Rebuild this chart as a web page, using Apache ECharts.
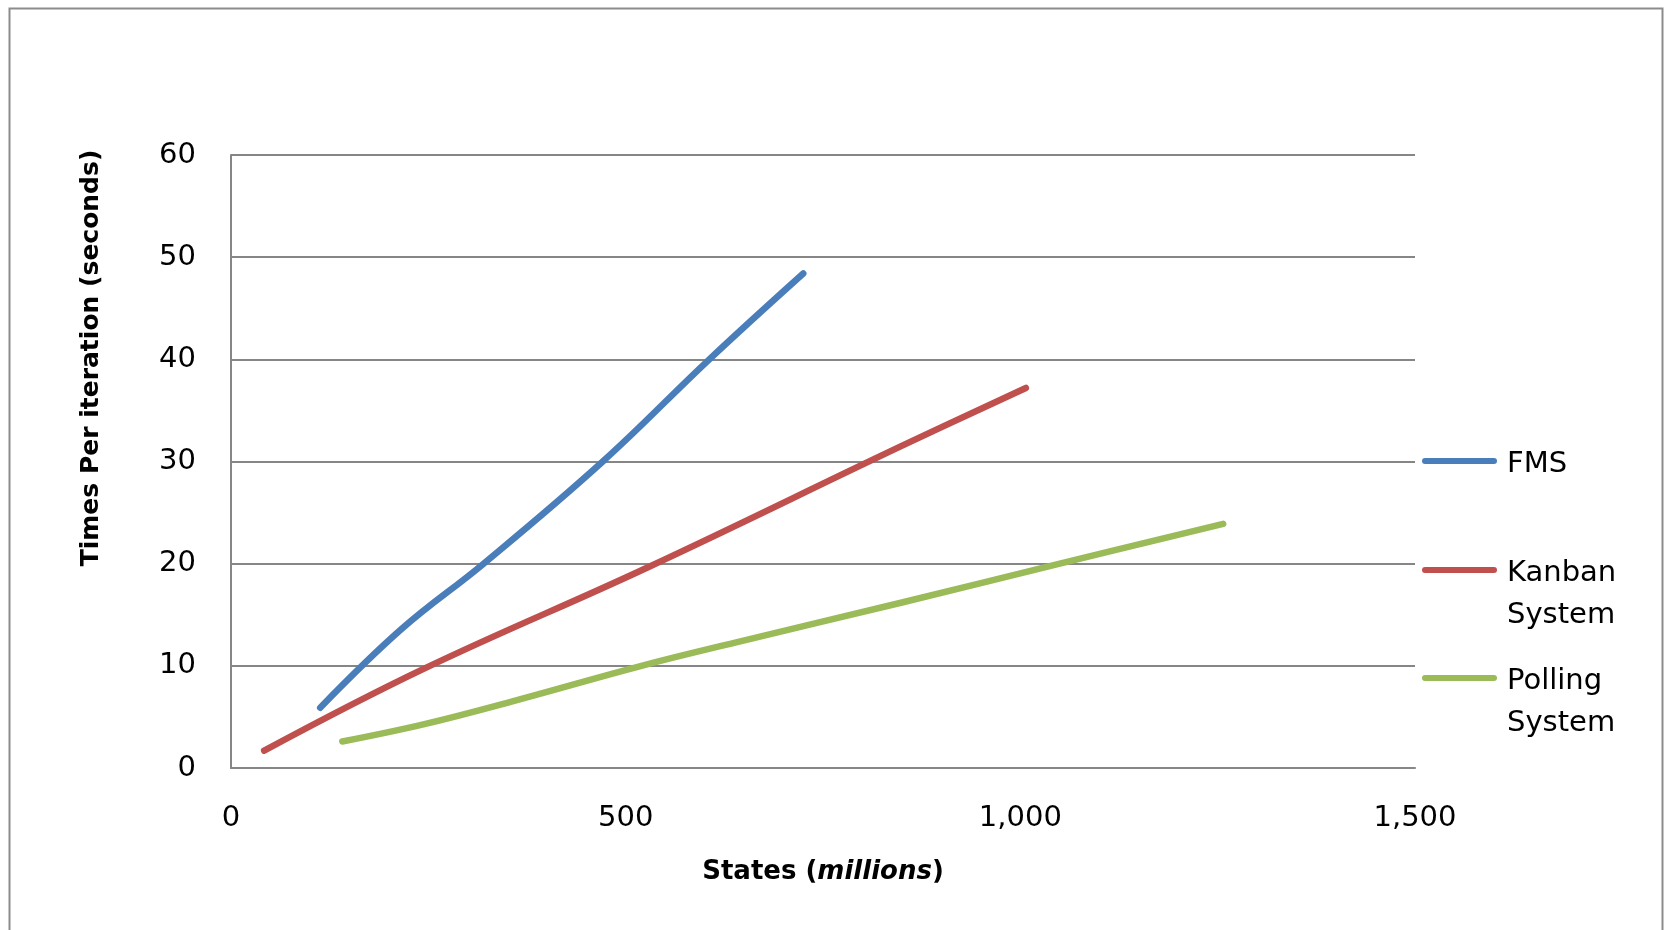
<!DOCTYPE html>
<html>
<head>
<meta charset="utf-8">
<style>
  html, body { margin: 0; padding: 0; background: #ffffff; }
  #chart { width: 1667px; height: 930px; }
</style>
<script src="https://cdn.jsdelivr.net/npm/echarts@6/dist/echarts.min.js"></script>
</head>
<body>
<div id="chart"></div>
<script>
// Series data: state-space size (millions) vs time per iteration (seconds)
const fmsStates     = [113, 216, 320, 471, 606, 725];
const fmsTimes      = [5.9, 13.6, 20.0, 30.0, 40.0, 48.4];
const kanbanStates  = [42, 244, 527, 849, 1007];
const kanbanTimes   = [1.7, 9.7, 19.6, 31.5, 37.2];
const pollingStates = [141, 245, 360, 520, 640, 850, 1050, 1257];
const pollingTimes  = [2.6, 4.3, 6.6, 10.0, 12.3, 16.2, 20.0, 23.9];

const seriesNames  = ['FMS', 'Kanban System', 'Polling System'];
const seriesColors = ['#4A7EBB', '#C0504D', '#9BBB59'];

const xTicks = { min: 0, max: 1500, interval: 500 };
const yTicks = { min: 0, max: 60, interval: 10 };

const FONT = 'DejaVu Sans';
const GRID_GRAY = '#868686';

function pairs(xs, ys) {
  return xs.map((x, i) => [x, ys[i]]);
}

const lineIcon = 'path://M3,0 H72 A3,3 0 0 1 72,6 H3 A3,3 0 0 1 3,0 Z';

// One legend per series so each entry sits at its own height. A spacer line
// above the name block keeps the marker level with the first text line.
function legendFor(name, markerY) {
  const lh = 42;
  const words = name.split(' ');
  const spacerH = (words.length - 1) * lh + 6;
  const totalH = spacerH + words.length * lh;
  return {
    data: [name],
    left: 1422,
    top: markerY - totalH / 2,
    orient: 'vertical',
    padding: 0,
    icon: lineIcon,
    itemWidth: 75,
    itemHeight: 6,
    selectedMode: false,
    formatter: n => '{gap|}\n' + n.split(' ').map(w => '{t|' + w + '}').join('\n'),
    textStyle: {
      fontFamily: FONT,
      fontSize: 29,
      color: '#000000',
      rich: {
        gap: { height: spacerH, lineHeight: spacerH, fontSize: 1 },
        t: { fontFamily: FONT, fontSize: 29, color: '#000000', lineHeight: lh, padding: [0, 0, 0, 5] }
      }
    }
  };
}

const chart = echarts.init(document.getElementById('chart'), null, { renderer: 'canvas' });

const dataSets = [pairs(fmsStates, fmsTimes), pairs(kanbanStates, kanbanTimes), pairs(pollingStates, pollingTimes)];

chart.setOption({
  backgroundColor: '#ffffff',
  animation: false,
  grid: { left: 231, right: 252, top: 155, bottom: 162 },
  legend: [
    legendFor('FMS', 461),
    legendFor('Kanban System', 570),
    legendFor('Polling System', 678)
  ],
  xAxis: {
    type: 'value',
    min: xTicks.min, max: xTicks.max, interval: xTicks.interval,
    axisLine: { show: true, lineStyle: { color: GRID_GRAY, width: 2 } },
    axisTick: { show: false },
    splitLine: { show: false },
    axisLabel: {
      margin: 36,
      fontFamily: FONT, fontSize: 29, color: '#000000',
      formatter: v => v.toLocaleString('en-US')
    },
    name: '{b|States (}{i|millions}{b|)}',
    nameLocation: 'middle',
    nameGap: 91,
    nameTextStyle: {
      rich: {
        b: { fontFamily: FONT, fontSize: 26, fontWeight: 'bold', color: '#000000' },
        i: { fontFamily: FONT, fontSize: 26, fontWeight: 'bold', fontStyle: 'italic', color: '#000000' }
      }
    }
  },
  yAxis: {
    type: 'value',
    min: yTicks.min, max: yTicks.max, interval: yTicks.interval,
    axisLine: { show: true, lineStyle: { color: GRID_GRAY, width: 2 } },
    axisTick: { show: false },
    splitLine: { show: true, lineStyle: { color: GRID_GRAY, width: 2 } },
    axisLabel: { margin: 35, fontFamily: FONT, fontSize: 29, color: '#000000' }
  },
  graphic: [
    {
      type: 'rect',
      left: 7, top: 6,
      shape: { width: 1653, height: 940 },
      style: { fill: 'none', stroke: '#8c8c8c', lineWidth: 2 },
      silent: true
    },
    {
      type: 'text',
      x: 91, y: 358,
      rotation: Math.PI / 2,
      style: {
        text: 'Times Per iteration (seconds)',
        fontFamily: FONT, fontSize: 25, fontWeight: 'bold', fill: '#000000',
        align: 'center', verticalAlign: 'middle'
      }
    }
  ],
  series: seriesNames.map((name, i) => ({
    name: name,
    type: 'line',
    data: dataSets[i],
    smooth: 0.4,
    showSymbol: false,
    symbol: 'none',
    color: seriesColors[i],
    lineStyle: { color: seriesColors[i], width: 6.5, cap: 'round', join: 'round' }
  }))
});
</script>
</body>
</html>
